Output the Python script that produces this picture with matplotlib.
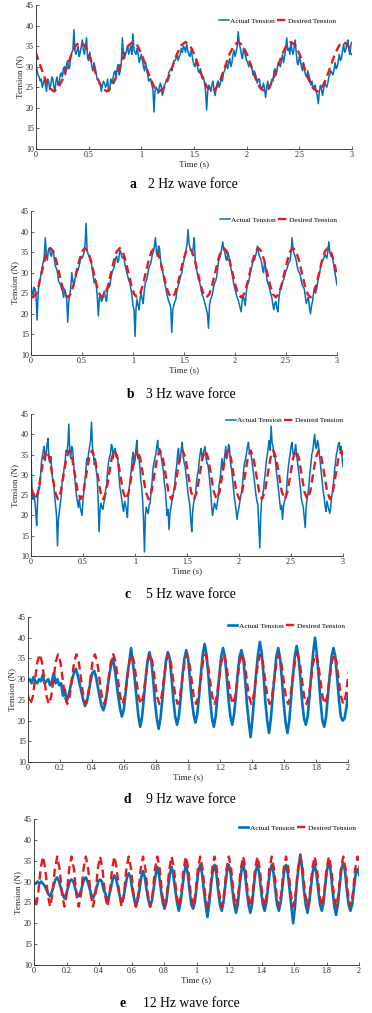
import numpy as np
import matplotlib
matplotlib.use("Agg")
import matplotlib.pyplot as plt

plt.rcParams['font.family'] = ['Liberation Serif', 'DejaVu Serif']

########################### Daten ###################################

# a: 2 Hz, Messwerte alle 0.01 s
a_actual = [31, 29, 28, 27.5, 26.5, 27, 25, 26, 27, 25.5, 24, 27, 26.5, 24.5, 25.5, 27.5, 27, 25, 24, 26.5,
            27.5, 25.5, 26, 28, 28.5, 27.5, 29.5, 30, 28, 30.5, 31.5, 29.5, 30, 32.5, 33.5, 34, 39, 34, 33, 34,
            35, 32.5, 33.5, 35, 36.5, 34, 33, 35, 37, 32, 31.5, 33.5, 32, 30, 29, 31, 30, 28.5, 27, 27,
            26, 25.5, 24, 25.5, 26.5, 26, 25, 25.5, 27, 24, 24.5, 27, 26, 27, 28.5, 29, 27.5, 29.5, 30.5, 28,
            29, 31, 37, 33, 32, 33, 34, 35, 33, 34, 35, 33, 38, 34, 33.5, 33, 34.5, 33, 31, 32,
            33, 31.5, 30, 29, 31, 29.5, 28, 26.5, 27, 27, 25.5, 24.5, 19, 24, 25, 24.5, 23.5, 25, 26, 25,
            23, 24, 25.5, 26, 27, 26.5, 28.5, 29, 29.5, 29, 30.5, 31.5, 31.5, 32, 33, 31.5, 32.5, 33, 34.5, 33.5,
            35, 34.5, 33.5, 35.5, 34, 33, 32.5, 34, 33, 31.5, 30.5, 30, 31.5, 30.5, 29, 28.5, 29.5, 28, 27, 27.5,
            26, 24, 19.5, 24, 25.5, 25, 24, 25.5, 26.5, 24.5, 23, 24.5, 26, 26.5, 25, 26, 27.5, 26.5, 28.5, 29,
            30, 30.5, 29.5, 31, 32, 30, 31, 33, 34, 32.5, 33.5, 35, 38.5, 35.5, 34.5, 33, 32, 34.5, 33.5, 32.5,
            31.5, 31, 30, 31, 30.5, 29.5, 28, 29, 28.5, 27.5, 26, 27, 27, 25.5, 24.5, 25, 26, 24.5, 22.5, 25,
            26.5, 24.5, 25, 26, 27, 26.5, 29, 29.5, 28, 29.5, 31, 30.5, 30, 31.5, 33, 31, 32.5, 34, 37, 34,
            34.5, 33, 36, 34, 33, 34.5, 36.5, 33.5, 31, 30.5, 32.5, 31.5, 30, 29, 31, 29, 28, 27.5, 29, 28,
            27, 25.5, 26.5, 25, 25, 25.5, 24, 23, 21, 24, 25.5, 24.5, 23, 24.5, 26.5, 25.5, 25, 26, 27.5, 28,
            29, 28.5, 28, 29.5, 31, 29.5, 30, 31.5, 33, 31.5, 32, 34, 35.5, 33.5, 34, 35.5, 36.5, 34, 33, 35.5, 36]
a_des_t0, a_des_dt = -0.08, 0.5 / 12
a_desired = [36, 35.2, 33, 30, 27, 24.8, 24, 24.8, 27, 30, 33, 35.2,
             36, 35.2, 33, 30, 27, 24.8, 24, 24.8, 27, 30, 33, 35.2,
             36, 35.2, 33, 30, 27, 24.8, 24, 24.8, 27, 30, 33, 35.2,
             36, 35.2, 33, 30, 27, 24.8, 24, 24.8, 27, 30, 33, 35.2,
             36, 35.2, 33, 30, 27, 24.8, 24, 24.8, 27, 30, 33, 35.2,
             36, 35.2, 33, 30, 27, 24.8, 24, 24.8, 27, 30, 33, 35.2,
             36, 35.2, 33, 30]

# b: 3 Hz, Messwerte alle 0.01 s
b_actual = [27, 25.5, 24.5, 26.5, 26, 24, 18.5, 25, 28, 28.5, 30, 31.5, 32.5, 34, 38.5, 34.5, 33, 35.5, 36, 34.5,
            34, 35.5, 35, 33, 31.5, 31, 30, 28, 27.5, 27, 26, 25.5, 24, 26, 25, 23.5, 18, 23, 24.5, 26.5,
            30, 28, 27, 28.5, 29, 31, 30.5, 31.5, 32.5, 34, 33.5, 34, 35, 37, 42, 35.5, 34.5, 34, 33, 32.5,
            31, 29, 27.5, 28.5, 27, 24, 19.5, 24, 24.5, 23, 23.5, 25, 25.5, 24, 23, 25.5, 27.5, 26.5, 28, 29.5,
            30.5, 31, 32, 33.5, 34, 32.5, 33, 35.5, 35, 34, 33.5, 34, 32, 31, 30, 29, 28, 27.5, 26, 24.5,
            22, 21, 14.5, 21.5, 23.5, 22, 21, 24, 25, 23.5, 22.5, 25.5, 27.5, 28, 29, 30.5, 31.5, 32, 33, 34.5,
            35, 36.5, 38.5, 35, 34, 36.5, 36, 33, 31, 30.5, 29, 27.5, 26.5, 25, 24, 23, 22.5, 21.5, 15.5, 21,
            22, 23, 23.5, 25.5, 26.5, 27.5, 28.5, 29.5, 30, 32, 33, 34.5, 35.5, 37, 40.5, 37, 36, 35.5, 34.5, 36,
            38.5, 33, 31, 30, 28.5, 28, 27, 25.5, 24.5, 24, 23, 22, 21, 20, 16.5, 22, 23.5, 24, 25, 26.5,
            27.5, 28, 29, 31, 33, 33.5, 34.5, 36, 37.5, 35.5, 35, 33.5, 33, 35, 34, 32.5, 31, 30, 28.5, 27,
            26, 25, 24, 23.5, 22.5, 21.5, 20.5, 23, 24.5, 23.5, 22, 25, 27, 27.5, 28.5, 30, 31, 32, 33.5, 33,
            34, 35, 36.5, 35, 34, 33.5, 32.5, 31, 30, 32.5, 31.5, 29, 27.5, 27, 26, 25, 24, 22.5, 21, 22.5,
            23, 21.5, 20.5, 23.5, 25.5, 26, 27, 28, 28.5, 29.5, 30.5, 31, 32, 32.5, 33, 35, 38.5, 35.5, 34.5, 34,
            33, 31.5, 30.5, 30, 29.5, 28, 27, 26.5, 26, 24, 22.5, 23.5, 24, 21.5, 20, 22, 23, 25, 26.5, 25,
            26, 27.5, 29, 30, 31.5, 32.5, 33, 33.5, 34.5, 34, 33.5, 35, 37.5, 35, 34, 34.5, 33, 31.5, 30, 28.5, 27]
b_des_t0, b_des_dt = -0.15, 0.34 / 12
b_desired = [36, 35.2, 33, 30, 27, 24.8, 24, 24.8, 27, 30, 33, 35.2,
             36, 35.2, 33, 30, 27, 24.8, 24, 24.8, 27, 30, 33, 35.2,
             36, 35.2, 33, 30, 27, 24.8, 24, 24.8, 27, 30, 33, 35.2,
             36, 35.2, 33, 30, 27, 24.8, 24, 24.8, 27, 30, 33, 35.2,
             36, 35.2, 33, 30, 27, 24.8, 24, 24.8, 27, 30, 33, 35.2,
             36, 35.2, 33, 30, 27, 24.8, 24, 24.8, 27, 30, 33, 35.2,
             36, 35.2, 33, 30, 27, 24.8, 24, 24.8, 27, 30, 33, 35.2,
             36, 35.2, 33, 30, 27, 24.8, 24, 24.8, 27, 30, 33, 35.2,
             36, 35.2, 33, 30, 27, 24.8, 24, 24.8, 27, 30, 33, 35.2,
             36, 35.2, 33, 30, 27]

# c: 5 Hz, 331 Messwerte zwischen 0 und 3 s
c_actual = [34, 27, 24, 25.5,
            23.5, 21, 17.5, 24, 27, 26.5, 29.5, 33, 34.5, 36, 37, 33.5, 35, 37.5, 39, 34, 33, 34.5, 31, 28.5, 28, 25, 22.5, 20,
            12.5, 19, 21, 23, 24.5, 28.5, 30, 31.5, 33, 36, 35.5, 37.5, 42.5, 36, 34, 37, 36.5, 33, 30, 27.5, 25, 23.5, 22, 24,
            22, 21, 20, 24, 26, 28.5, 31, 34, 33.5, 35.5, 37, 38.5, 43, 37, 35, 32.5, 34, 31, 29.5, 24, 16, 21.5, 23, 22,
            21.5, 23, 24, 26.5, 27.5, 31, 33, 34.5, 35, 37.5, 37, 34, 36, 36.5, 34.5, 35, 33.5, 30, 27, 25.5, 24, 22, 21, 23.5,
            22.5, 21.5, 19.5, 25, 27, 29, 31, 34, 35.5, 32.5, 33.5, 36.5, 38.5, 34, 35, 32.5, 29, 27, 24, 19, 11, 20, 22, 21,
            20.5, 22.5, 23, 26, 28, 31.5, 33, 34, 35, 37, 38.5, 35, 36.5, 35.5, 34, 32.5, 31, 28, 26.5, 23, 20, 21.5, 16.5, 20.5,
            22, 23.5, 24.5, 26, 27.5, 30.5, 32, 35, 36.5, 33, 34, 36.5, 38, 34.5, 33, 32, 30, 28, 25.5, 24, 22.5, 19, 16, 21,
            23, 24, 25, 28, 30, 31, 33.5, 35.5, 36.5, 34, 35, 36, 37, 34.5, 33, 32.5, 31, 28.5, 26, 22.5, 20, 21.5, 23, 22.5,
            21.5, 23, 24.5, 27.5, 29, 31.5, 34, 31.5, 32.5, 35, 37, 34, 35, 37.5, 36.5, 33, 31.5, 29.5, 27, 24.5, 23, 21, 19, 21,
            22, 23.5, 25, 26, 28.5, 31.5, 33, 34, 35.5, 37, 38, 35.5, 36, 34.5, 33, 31, 29, 27, 25, 23.5, 22.5, 17, 12, 20,
            24, 25, 26.5, 29, 31, 33.5, 35, 37, 38.5, 36, 42, 38, 37, 34.5, 35, 32, 30, 28, 26, 23.5, 21.5, 22.5, 19, 22,
            23.5, 24, 25, 29, 31.5, 33.5, 35, 37, 38, 35.5, 34.5, 36, 37.5, 34.5, 33, 31, 29, 26.5, 24, 23, 22, 19.5, 17, 22,
            24, 25.5, 27.5, 30.5, 32.5, 35, 36, 38, 40, 37, 36.5, 38.5, 37.5, 35, 33, 30.5, 28.5, 26, 24.5, 22.5, 21, 23.5, 22.5, 21.5,
            20.5, 22, 24.5, 26, 28, 31, 33, 35, 36, 37.5, 38, 36, 37, 34, 32]
c_des_t0, c_des_dt = -0.068, 0.218 / 8
c_desired = [36, 34.2, 30, 25.8, 24, 25.8, 30, 34.2,
             36, 34.2, 30, 25.8, 24, 25.8, 30, 34.2,
             36, 34.2, 30, 25.8, 24, 25.8, 30, 34.2,
             36, 34.2, 30, 25.8, 24, 25.8, 30, 34.2,
             36, 34.2, 30, 25.8, 24, 25.8, 30, 34.2,
             36, 34.2, 30, 25.8, 24, 25.8, 30, 34.2,
             36, 34.2, 30, 25.8, 24, 25.8, 30, 34.2,
             36, 34.2, 30, 25.8, 24, 25.8, 30, 34.2,
             36, 34.2, 30, 25.8, 24, 25.8, 30, 34.2,
             36, 34.2, 30, 25.8, 24, 25.8, 30, 34.2,
             36, 34.2, 30, 25.8, 24, 25.8, 30, 34.2,
             36, 34.2, 30, 25.8, 24, 25.8, 30, 34.2,
             36, 34.2, 30, 25.8, 24, 25.8, 30, 34.2,
             36, 34.2, 30, 25.8, 24, 25.8, 30, 34.2,
             36, 34.2]

# d: 9 Hz, Messwerte alle 0.0115 s
d_dt = 0.0115
d_actual = [29.5, 30, 29, 30.5, 29.5, 29, 30, 29.5, 31, 29,
            29.5, 30, 28.5, 29.5, 31.5, 29, 30, 28.5, 29, 26, 27.5,
            24.5, 26, 28, 30, 31.5, 32.5, 31, 29, 27, 25,
            23.5, 24.5, 27, 29.5, 31.5, 32, 30.5, 28, 25.5, 23.5,
            22.5, 24, 27, 30.5, 33, 35, 33, 29.5, 26, 23,
            21, 22.5, 26.5, 31, 34, 37.5, 34, 30, 25.5, 21,
            18.5, 21, 25.5, 30.5, 34.5, 36.5, 34.5, 30, 24.5, 20.5,
            18, 20.5, 25, 30, 34.5, 36.5, 35, 30.5, 25, 21,
            19, 21, 25.5, 31, 35, 37, 35, 30, 25, 21.5,
            19.5, 21.5, 26, 31.5, 36, 38.5, 36, 31, 25, 20.5,
            18.5, 21, 26, 31, 35.5, 37.5, 35.5, 30.5, 25, 21,
            19, 21.5, 26, 31.5, 35.5, 37, 35, 30, 24, 19.5,
            16, 20.5, 26, 31.5, 36, 39, 36.5, 31, 24.5, 20,
            17, 20.5, 26, 31, 35.5, 37.5, 35, 30, 24, 19.5,
            17, 20, 25.5, 31, 35.5, 38, 35.5, 30.5, 24.5, 20.5,
            19, 21, 26, 31.5, 36.5, 40, 36, 30.5, 24.5, 20,
            18.5, 21, 26, 31, 35.5, 37.5, 35.5, 30.5, 25, 21,
            20, 20.5, 23, 26.5]
d_des_t0, d_des_dt = -0.042, 0.115 / 8
d_desired = [36, 34.2, 30, 25.8, 24, 25.8, 30, 34.2,
             36, 34.2, 30, 25.8, 24, 25.8, 30, 34.2,
             36, 34.2, 30, 25.8, 24, 25.8, 30, 34.2,
             36, 34.2, 30, 25.8, 24, 25.8, 30, 34.2,
             36, 34.2, 30, 25.8, 24, 25.8, 30, 34.2,
             36, 34.2, 30, 25.8, 24, 25.8, 30, 34.2,
             36, 34.2, 30, 25.8, 24, 25.8, 30, 34.2,
             36, 34.2, 30, 25.8, 24, 25.8, 30, 34.2,
             36, 34.2, 30, 25.8, 24, 25.8, 30, 34.2,
             36, 34.2, 30, 25.8, 24, 25.8, 30, 34.2,
             36, 34.2, 30, 25.8, 24, 25.8, 30, 34.2,
             36, 34.2, 30, 25.8, 24, 25.8, 30, 34.2,
             36, 34.2, 30, 25.8, 24, 25.8, 30, 34.2,
             36, 34.2, 30, 25.8, 24, 25.8, 30, 34.2,
             36, 34.2, 30, 25.8, 24, 25.8, 30, 34.2,
             36, 34.2, 30, 25.8, 24, 25.8, 30, 34.2,
             36, 34.2, 30, 25.8, 24, 25.8, 30, 34.2,
             36, 34.2, 30, 25.8, 24, 25.8, 30, 34.2]

# e: 12 Hz, Messwerte alle 0.011 s
e_dt = 0.011
e_actual = [29.5,
            29.5, 30, 29.5, 30, 29.5, 29, 28, 27,
            26.5, 27.5, 29, 30.5, 31, 30, 28.5, 27,
            26, 27, 28.5, 30, 30.5, 30, 28.5, 27,
            26.5, 27.5, 29, 30.5, 31, 30, 28.5, 27,
            26, 27, 28.5, 30, 30.5, 30, 28, 27,
            25.5, 26.5, 28.5, 30.5, 31.5, 30.5, 28.5, 26.5,
            25, 26, 28.5, 31, 32, 31, 28, 26,
            24, 25.5, 28, 31, 32.5, 31, 28, 25.5,
            24, 25.5, 28.5, 31.5, 33.5, 31.5, 28, 25,
            23.5, 25, 28.5, 32, 33.5, 31.5, 28, 25,
            23, 25, 28.5, 32, 34, 32, 28, 24.5,
            23.5, 25, 29, 32.5, 34, 32, 28, 24.5,
            21.5, 24.5, 29, 32.5, 34, 32, 28, 24.5,
            23, 25, 29, 32.5, 34, 32, 28, 24.5,
            22.5, 24.5, 29, 32.5, 34.5, 32, 28, 24.5,
            22.5, 24.5, 29, 32.5, 34, 32, 28, 24.5,
            23, 25, 29, 32.5, 34, 32, 28, 24.5,
            23, 25, 29, 32.5, 34, 32, 28, 24,
            20, 24, 29.5, 33.5, 36.5, 33, 28, 24.5,
            22.5, 25, 29, 32.5, 34, 32, 28, 24.5,
            23, 25, 29.5, 33, 34.5, 32.5, 28, 24,
            22, 24.5, 29, 33, 34.5, 32.5, 28, 24.5,
            23, 24.5, 28.5, 32, 33, 31.5]
e_des_t0, e_des_dt = -0.033, 0.088 / 6
e_desired = [36, 33, 27, 24, 27, 33, 36, 33, 27, 24, 27, 33,
             36, 33, 27, 24, 27, 33, 36, 33, 27, 24, 27, 33,
             36, 33, 27, 24, 27, 33, 36, 33, 27, 24, 27, 33,
             36, 33, 27, 24, 27, 33, 36, 33, 27, 24, 27, 33,
             36, 33, 27, 24, 27, 33, 36, 33, 27, 24, 27, 33,
             36, 33, 27, 24, 27, 33, 36, 33, 27, 24, 27, 33,
             36, 33, 27, 24, 27, 33, 36, 33, 27, 24, 27, 33,
             36, 33, 27, 24, 27, 33, 36, 33, 27, 24, 27, 33,
             36, 33, 27, 24, 27, 33, 36, 33, 27, 24, 27, 33,
             36, 33, 27, 24, 27, 33, 36, 33, 27, 24, 27, 33,
             36, 33, 27, 24, 27, 33, 36, 33, 27, 24, 27, 33,
             36, 33, 27, 24, 27, 33, 36, 33, 27, 24, 27, 33]

ticks_3s = ['0', '0.5', '1', '1.5', '2', '2.5', '3']
ticks_2s = ['0', '0.2', '0.4', '0.6', '0.8', '1', '1.2', '1.4', '1.6', '1.8', '2']
y_ticks = [10, 15, 20, 25, 30, 35, 40, 45]

captions = [('a', '2 Hz wave force'), ('b', '3 Hz wave force'), ('c', '5 Hz wave force'),
            ('d', '9 Hz wave force'), ('e', '12 Hz wave force')]

########################### Plot ###################################

W, H = 372, 1013
fig = plt.figure(figsize=(W / 100, H / 100), dpi=100)

# Pixel-Lage der Achsen: links, rechts, oben, unten
boxes = [(36, 352, 5, 149), (31, 337, 211, 355), (31, 343, 414, 556),
         (28, 348, 617, 762), (34, 359, 819, 965)]
# Legende: rechter Rand und Mitte in Achsen-Koordinaten
leg_pos = [(0.95, 0.89), (1.0, 0.94), (1.0, 0.955), (0.99, 0.94), (0.99, 0.94)]
# Beschriftung: x von Buchstabe, x von Text, y (Pixel)
cap_pos = [(129, 148, 184), (127, 146, 394), (125, 146, 594), (123, 146, 799), (119, 143, 1003)]

panels = [
    (np.linspace(0, 3, len(a_actual)), a_actual,
     a_des_t0 + np.arange(len(a_desired)) * a_des_dt, a_desired, 3, ticks_3s, 1.1),
    (np.linspace(0, 3, len(b_actual)), b_actual,
     b_des_t0 + np.arange(len(b_desired)) * b_des_dt, b_desired, 3, ticks_3s, 1.1),
    (np.linspace(0, 3, len(c_actual)), c_actual,
     c_des_t0 + np.arange(len(c_desired)) * c_des_dt, c_desired, 3, ticks_3s, 1.1),
    (np.arange(len(d_actual)) * d_dt, d_actual,
     d_des_t0 + np.arange(len(d_desired)) * d_des_dt, d_desired, 2, ticks_2s, 1.9),
    (np.arange(len(e_actual)) * e_dt, e_actual,
     e_des_t0 + np.arange(len(e_desired)) * e_des_dt, e_desired, 2, ticks_2s, 1.9),
]

for i, (ta, ya, td, yd, tmax, xt, lw) in enumerate(panels):
    l, r, top, bot = boxes[i]
    ax = fig.add_axes([l / W, 1 - bot / H, (r - l) / W, (bot - top) / H])
    ax.plot(ta, ya, color='#0072BD', lw=lw, label='Actual Tension')
    ax.plot(td, yd, color='#E41A1C', lw=1.7, ls=(0, (3.5, 2.0)), label='Desired Tension')
    ax.set_xlim(0, tmax)
    ax.set_ylim(10, 45)
    ax.set_xticks(np.linspace(0, tmax, len(xt)))
    ax.set_xticklabels(xt)
    ax.set_yticks(y_ticks)
    ax.tick_params(direction='in', length=2, width=0.5, labelsize=5.8, pad=1.5, colors='#262626')
    for s in ['top', 'right']:
        ax.spines[s].set_visible(False)
    for s in ['left', 'bottom']:
        ax.spines[s].set_linewidth(0.6)
        ax.spines[s].set_color('#262626')
    ax.set_ylabel('Tension (N)', fontsize=6.5, labelpad=1, color='#262626')
    ax.set_xlabel('Time (s)', fontsize=6.5, labelpad=0.5, color='#262626')
    ax.legend(loc='center right', bbox_to_anchor=leg_pos[i], ncol=2, frameon=False,
              fontsize=5.3, handlelength=1.3, handletextpad=0.2, columnspacing=0.3,
              borderaxespad=0, borderpad=0)

    xl, xtx, yc = cap_pos[i]
    fig.text(xl / W, 1 - yc / H, captions[i][0], fontsize=9.8, fontweight='bold', va='center')
    fig.text(xtx / W, 1 - yc / H, captions[i][1], fontsize=9.8, va='center')

fig.savefig('out.png', dpi=100)
